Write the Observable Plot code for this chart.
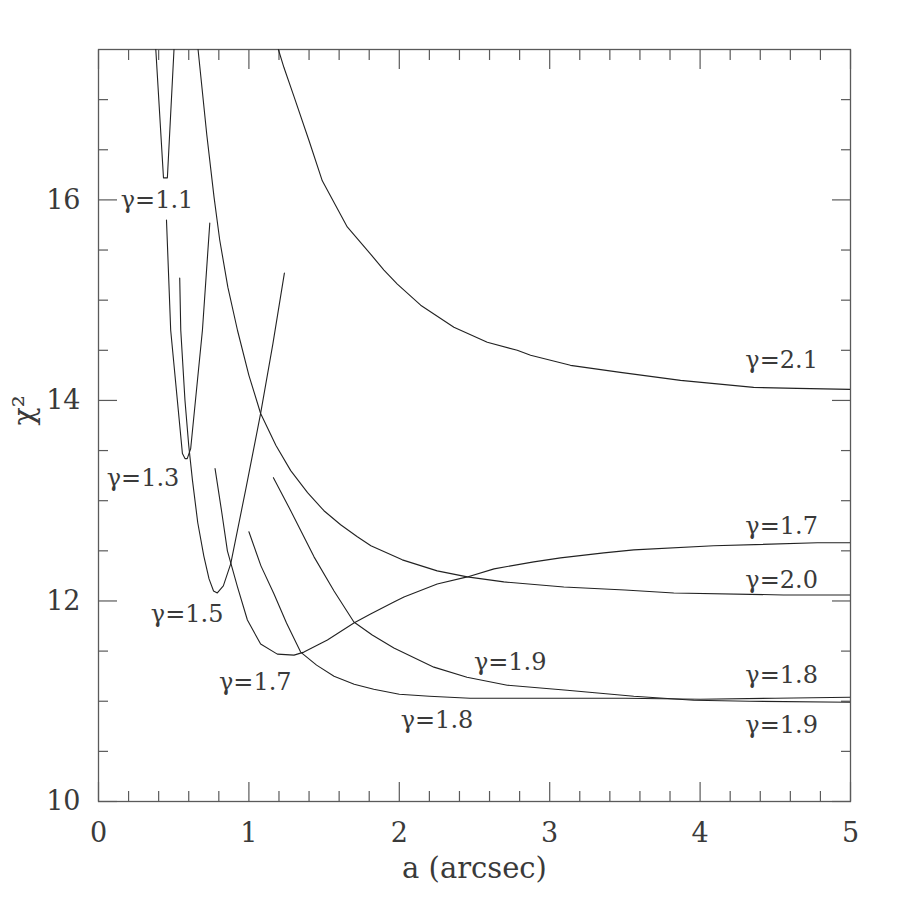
<!DOCTYPE html>
<html>
<head>
<meta charset="utf-8">
<script src="https://cdn.jsdelivr.net/npm/d3@7"></script>
<script src="https://cdn.jsdelivr.net/npm/@observablehq/plot@0.6"></script>
<style>
  html, body { margin: 0; padding: 0; background: #fff; }
</style>
</head>
<body>
<div id="chart"></div>
<script>
// ---- tick values ----
const xMajor = [0, 1, 2, 3, 4, 5];
const xMinor = [0.2, 0.4, 0.6, 0.8, 1.2, 1.4, 1.6, 1.8, 2.2, 2.4, 2.6, 2.8, 3.2, 3.4, 3.6, 3.8, 4.2, 4.4, 4.6, 4.8];
const yMajor = [10, 12, 14, 16];
const yMinor = [10.5, 11, 11.5, 12.5, 13, 13.5, 14.5, 15, 15.5, 16.5, 17];

// ---- curves (a in arcsec, chi^2) ----
const a_g11 = [0.381, 0.432, 0.458, 0.502];
const c_g11 = [17.5, 16.22, 16.22, 17.5];

const a_g13 = [0.452, 0.48, 0.558, 0.575, 0.59, 0.613, 0.691, 0.74];
const c_g13 = [15.80, 14.70, 13.47, 13.42, 13.42, 13.52, 14.70, 15.77];

const a_g15 = [0.54, 0.547, 0.575, 0.60, 0.625, 0.66, 0.70, 0.735, 0.765, 0.79, 0.83, 0.879, 0.98, 1.078, 1.16, 1.236];
const c_g15 = [15.22, 14.70, 14.0, 13.55, 13.20, 12.78, 12.45, 12.22, 12.10, 12.08, 12.15, 12.37, 13.12, 13.87, 14.57, 15.27];

const a_g17 = [0.775, 0.82, 0.857, 0.924, 0.99, 1.078, 1.189, 1.30, 1.366, 1.522, 1.698, 1.809, 1.964, 2.031, 2.252, 2.452, 2.63, 2.894, 3.072, 3.36, 3.559, 4.09, 4.78, 5.0];
const c_g17 = [13.32, 12.88, 12.50, 12.14, 11.81, 11.57, 11.47, 11.46, 11.49, 11.61, 11.78, 11.87, 11.99, 12.04, 12.17, 12.24, 12.32, 12.39, 12.43, 12.48, 12.51, 12.55, 12.58, 12.58];

const a_g18 = [1.0, 1.08, 1.167, 1.25, 1.344, 1.45, 1.566, 1.7, 1.83, 2.0, 2.2, 2.47, 3.0, 3.5, 4.0, 4.5, 5.0];
const c_g18 = [12.69, 12.35, 12.07, 11.78, 11.49, 11.36, 11.25, 11.17, 11.12, 11.07, 11.05, 11.03, 11.03, 11.03, 11.02, 11.03, 11.04];

const a_g19 = [1.163, 1.278, 1.433, 1.566, 1.698, 1.82, 1.964, 2.23, 2.45, 2.718, 3.116, 3.337, 3.559, 3.958, 4.33, 5.0];
const c_g19 = [13.23, 12.90, 12.44, 12.10, 11.79, 11.66, 11.53, 11.34, 11.24, 11.16, 11.11, 11.08, 11.05, 11.01, 11.0, 10.99];

const a_g20 = [0.662, 0.72, 0.768, 0.806, 0.86, 0.924, 1.0, 1.078, 1.18, 1.278, 1.39, 1.499, 1.61, 1.721, 1.811, 2.02, 2.252, 2.452, 2.695, 3.094, 3.5, 3.825, 4.555, 5.0];
const c_g20 = [17.5, 16.65, 16.03, 15.60, 15.13, 14.70, 14.25, 13.87, 13.55, 13.30, 13.08, 12.90, 12.76, 12.64, 12.55, 12.41, 12.30, 12.24, 12.19, 12.14, 12.11, 12.08, 12.06, 12.06];

const a_g21 = [1.196, 1.233, 1.30, 1.40, 1.488, 1.654, 1.809, 1.898, 1.987, 2.142, 2.363, 2.585, 2.784, 2.873, 3.138, 3.47, 3.87, 4.356, 4.645, 5.0];
const c_g21 = [17.5, 17.32, 17.03, 16.59, 16.19, 15.73, 15.46, 15.30, 15.16, 14.95, 14.73, 14.58, 14.50, 14.45, 14.35, 14.28, 14.20, 14.13, 14.12, 14.11];

// ---- curve labels ----
const labelText = ["γ=1.1", "γ=1.3", "γ=1.5", "γ=1.7", "γ=1.9", "γ=1.8", "γ=2.1", "γ=1.7", "γ=2.0", "γ=1.8", "γ=1.9"];
const labelA    = [0.148, 0.055, 0.348, 0.801, 2.496, 2.009, 4.301, 4.301, 4.301, 4.301, 4.301];
const labelC    = [16.00, 13.22, 11.865, 11.19, 11.39, 10.81, 14.40, 12.74, 12.21, 11.26, 10.76];

// build tables
const series = [
  [a_g11, c_g11], [a_g13, c_g13], [a_g15, c_g15], [a_g17, c_g17],
  [a_g18, c_g18], [a_g19, c_g19], [a_g20, c_g20], [a_g21, c_g21]
];
const rows = series.flatMap(([as, cs], k) => as.map((a, i) => ({k, a, c: cs[i]})));
const labels = labelText.map((t, i) => ({t, a: labelA[i], c: labelC[i]}));

const FONT = "DejaVu Serif";
const TXT = "#3a3a3a";
const AX = "#5a5a5a";

const chart = Plot.plot({
  width: 897,
  height: 897,
  marginLeft: 98,
  marginRight: 47,
  marginTop: 49,
  marginBottom: 96,
  style: {fontFamily: FONT, background: "#fff"},
  x: {domain: [0, 5]},
  y: {domain: [10, 17.5]},
  marks: [
    // inward ticks, all four sides
    Plot.axisX({ticks: xMajor, anchor: "bottom", tickSize: 19, dy: -19, tickFormat: () => "", stroke: AX, strokeWidth: 1.2, label: null}),
    Plot.axisX({ticks: xMinor, anchor: "bottom", tickSize: 10, dy: -10, tickFormat: () => "", stroke: AX, strokeWidth: 1.2, label: null}),
    Plot.axisX({ticks: xMajor, anchor: "top", tickSize: 19, dy: 19, tickFormat: () => "", stroke: AX, strokeWidth: 1.2, label: null}),
    Plot.axisX({ticks: xMinor, anchor: "top", tickSize: 10, dy: 10, tickFormat: () => "", stroke: AX, strokeWidth: 1.2, label: null}),
    Plot.axisY({ticks: yMajor, anchor: "left", tickSize: 19, dx: 19, tickFormat: () => "", stroke: AX, strokeWidth: 1.2, label: null}),
    Plot.axisY({ticks: yMinor, anchor: "left", tickSize: 10, dx: 10, tickFormat: () => "", stroke: AX, strokeWidth: 1.2, label: null}),
    Plot.axisY({ticks: yMajor, anchor: "right", tickSize: 19, dx: -19, tickFormat: () => "", stroke: AX, strokeWidth: 1.2, label: null}),
    Plot.axisY({ticks: yMinor, anchor: "right", tickSize: 10, dx: -10, tickFormat: () => "", stroke: AX, strokeWidth: 1.2, label: null}),
    // tick labels
    Plot.axisX({ticks: xMajor, anchor: "bottom", tickSize: 0, tickPadding: 21, fontSize: 27, fill: TXT, label: null, tickFormat: d => String(d)}),
    Plot.axisY({ticks: yMajor, anchor: "left", tickSize: 0, tickPadding: 18, fontSize: 27, fill: TXT, label: null, tickFormat: d => String(d)}),
    Plot.frame({stroke: AX, strokeWidth: 1.3}),
    // curves
    Plot.line(rows, {x: "a", y: "c", z: "k", stroke: "#222", strokeWidth: 1.1, curve: "linear", clip: true}),
    // curve labels
    Plot.text(labels, {x: "a", y: "c", text: "t", textAnchor: "start", fontSize: 24, fill: TXT, letterSpacing: 1.5}),
    // axis titles
    Plot.text(["a (arcsec)"], {frameAnchor: "bottom", dy: 76, fontSize: 29, fill: TXT, letterSpacing: 3}),
    Plot.text(["χ²"], {frameAnchor: "left", dx: -74, rotate: -90, fontSize: 30, fill: TXT})
  ]
});
document.getElementById("chart").appendChild(chart);
</script>
</body>
</html>
